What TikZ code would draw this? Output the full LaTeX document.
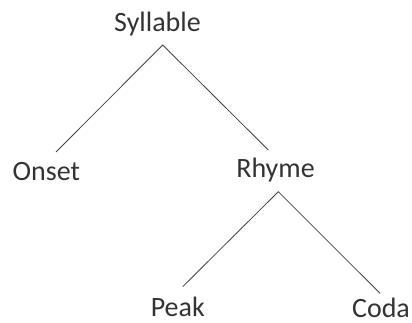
\documentclass[tikz,border=0pt]{standalone}
\usepackage{fontspec}
\setmainfont{Carlito}
\begin{document}
\begin{tikzpicture}[x=1pt,y=-1pt,
  lbl/.style={anchor=base,inner sep=0pt,text=black!80,font=\fontsize{28}{33}\selectfont},
  edge/.style={draw=black!75,line width=0.8pt}]
\useasboundingbox (0,0) rectangle (412,323);
\node[lbl] (syl) at (157.5,32) {Syllable};
\node[lbl] (onset) at (46.3,181) {Onset};
\node[lbl] (rhyme) at (275.5,178) {Rhyme};
\node[lbl] (peak) at (177.8,316) {Peak};
\node[lbl] (coda) at (381,317) {Coda};
\draw[edge] ([xshift=9.7pt,yshift=29pt]onset.base) -- ([xshift=5.2pt,yshift=-13pt]syl.base) -- ([xshift=-7.2pt,yshift=28pt]rhyme.base);
\draw[edge] ([xshift=4.9pt,yshift=29.3pt]peak.base) -- ([xshift=2.8pt,yshift=-13.7pt]rhyme.base) -- ([xshift=-1pt,yshift=23.7pt]coda.base);
\end{tikzpicture}
\end{document}
